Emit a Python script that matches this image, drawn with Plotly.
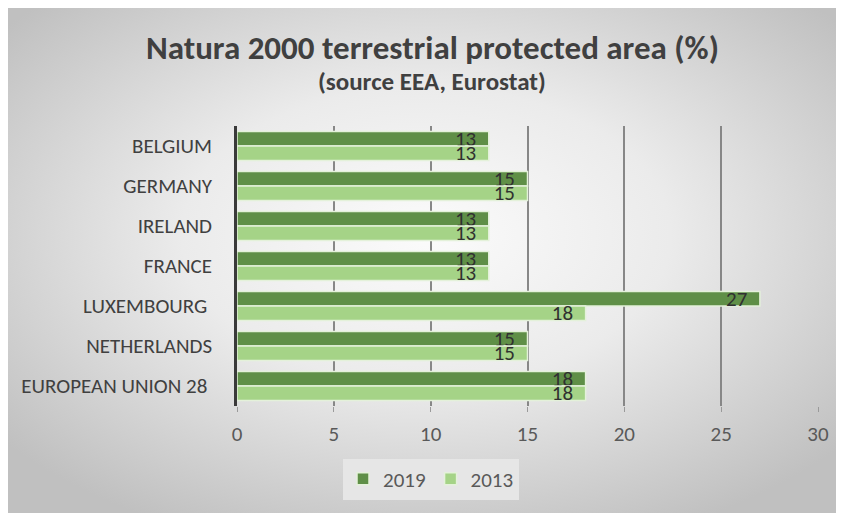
import base64
import plotly.graph_objects as go

categories = ["BELGIUM", "GERMANY", "IRELAND", "FRANCE", "LUXEMBOURG\u00a0", "NETHERLANDS", "EUROPEAN UNION 28\u00a0"]
values_2019 = [13, 15, 13, 13, 27, 15, 18]
values_2013 = [13, 15, 13, 13, 18, 15, 18]
x_ticks = [0, 5, 10, 15, 20, 25, 30]

FONT = "Carlito, Lato, 'Liberation Sans', sans-serif"

W, H = 836, 505
L, R, T, B = 229, 26, 118, 107
pw, ph = W - L - R, H - T - B

svg = f'''<svg xmlns="http://www.w3.org/2000/svg" width="{W}" height="{H}" viewBox="0 0 {W} {H}">
<defs><radialGradient id="g" cx="0.5" cy="0.45" r="0.65" gradientUnits="objectBoundingBox">
<stop offset="0" stop-color="#fbfbfb"/><stop offset="0.45" stop-color="#ebebeb"/><stop offset="1" stop-color="#c0c0c0"/></radialGradient></defs>
<rect width="{W}" height="{H}" fill="url(#g)"/></svg>'''
src = "data:image/svg+xml;base64," + base64.b64encode(svg.encode()).decode()


def px(xpix):
    return (xpix - L) / pw


def py(ypix):
    return (H - B - ypix) / ph


fig = go.Figure()
fig.add_trace(go.Bar(
    name="2019", y=categories, x=values_2019, orientation="h",
    marker=dict(color="#5f8f47", line=dict(color="#e4f1da", width=1.5)),
    text=values_2019, texttemplate="%{x}\u00a0\u00a0", textposition="inside", insidetextanchor="end",
    constraintext="none", textfont=dict(family=FONT, size=21, color="#303030"),
))
fig.add_trace(go.Bar(
    name="2013", y=categories, x=values_2013, orientation="h",
    marker=dict(color="#a5d387", line=dict(color="#e4f1da", width=1.5)),
    text=values_2013, texttemplate="%{x}\u00a0\u00a0", textposition="inside", insidetextanchor="end",
    constraintext="none", textfont=dict(family=FONT, size=21, color="#303030"),
))

fig.update_layout(
    width=W, height=H,
    margin=dict(l=L, r=R, t=T, b=B),
    paper_bgcolor="#dedede", plot_bgcolor="rgba(0,0,0,0)",
    barmode="group", bargap=0.28, bargroupgap=0.0,
    font=dict(family=FONT, color="#595959"),
    images=[dict(source=src, xref="paper", yref="paper",
                 x=px(0), y=py(0), sizex=W / pw, sizey=H / ph,
                 xanchor="left", yanchor="top", sizing="stretch", layer="below")],
    annotations=[
        dict(text="<b>Natura 2000 terrestrial protected area (%)</b>", xref="paper", yref="paper",
             x=px(424), y=py(40), xanchor="center", yanchor="middle",
             showarrow=False, font=dict(family=FONT, size=33, color="#404040")),
        dict(text="<b>(source EEA, Eurostat)</b>", xref="paper", yref="paper",
             x=px(424), y=py(74), xanchor="center", yanchor="middle",
             showarrow=False, font=dict(family=FONT, size=25, color="#404040")),
    ],
    legend=dict(orientation="h", x=px(423), y=py(471), xanchor="center", yanchor="middle",
                bgcolor="#e6e6e6", font=dict(family=FONT, size=21, color="#595959"),
                itemwidth=30, traceorder="normal"),
)
fig.update_xaxes(range=[0, 30], tickvals=x_ticks, showgrid=True, gridcolor="#878787", gridwidth=1.5,
                 zeroline=False, showline=False, ticks="outside", ticklen=5, tickcolor="#9a9a9a",
                 tickfont=dict(family=FONT, size=21, color="#595959"), ticklabelstandoff=4)
fig.update_yaxes(autorange="reversed", showgrid=False, zeroline=False, showline=True,
                 linecolor="#3a3a3a", linewidth=2.5, ticks="", ticklabelstandoff=18,
                 tickfont=dict(family=FONT, size=21, color="#404040"))

fig.write_html("out.html")
